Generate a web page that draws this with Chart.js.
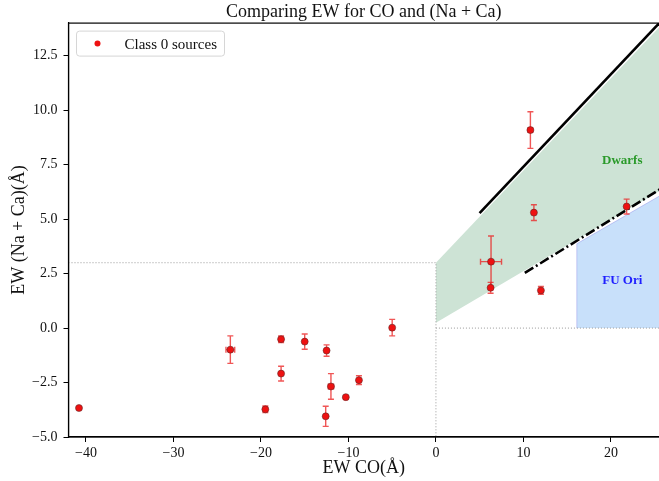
<!DOCTYPE html>
<html lang="en">
<head>
<meta charset="UTF-8">
<title>Comparing EW for CO and (Na + Ca)</title>
<script src="https://cdn.jsdelivr.net/npm/chart.js"></script>
<style>
  body { margin: 0; background: #fff; }
  canvas { display: block; }
</style>
</head>
<body>
<canvas id="ewChart" width="659" height="481"></canvas>
<script>
// Class 0 sources
const ewCO     = [-40.8, -23.5, -19.5, -17.7, -17.7, -15.0, -12.5, -12.0, -12.6, -10.3, -8.8, -5.0, 6.3, 6.25, 10.8, 11.2, 12.0, 21.8];
const ewNaCa   = [-3.67, -0.99, -3.73, -0.51, -2.09, -0.62, -1.03, -2.68, -4.05, -3.17, -2.39, 0.02, 3.05, 1.85, 9.09, 5.30, 1.73, 5.58];
const ewCOErr  = [0.15, 0.50, 0.15, 0.20, 0.15, 0.10, 0.15, 0.30, 0.10, 0.15, 0.15, 0.10, 1.20, 0.10, 0.25, 0.15, 0.15, 0.15];
const ewNaCaErr= [0.06, 0.63, 0.15, 0.15, 0.34, 0.35, 0.26, 0.59, 0.46, 0.06, 0.20, 0.38, 1.18, 0.25, 0.84, 0.36, 0.18, 0.34];

// region boundaries
const dwarfUpper = [{x: 0, y: 3.0}, {x: 25.5, y: 13.8}];
const dwarfLower = [{x: 0, y: 0.24}, {x: 25.5, y: 6.28}];
const fuOriTop   = [{x: 16.1, y: 0}, {x: 16.1, y: 3.87}, {x: 25.5, y: 6.05}];
const solidLine  = [{x: 4.99, y: 5.28}, {x: 26, y: 14.2}];
const dashDotLine= [{x: 10.16, y: 2.53}, {x: 26, y: 6.47}];
const dotBox     = [{x: -42, y: 3}, {x: 0, y: 3}, {x: 0, y: -5}];
const dotZero    = [{x: 0, y: 0}, {x: 25.5, y: 0}];

const regionLabels = [
  {text: 'Dwarfs', x: 21.3, y: 7.69, color: '#2a9a2a'},
  {text: 'FU Ori', x: 21.3, y: 2.17, color: '#1f1fff'}
];

const xTicks = [-40, -30, -20, -10, 0, 10, 20];
const yTicks = [-5, -2.5, 0, 2.5, 5, 7.5, 10, 12.5];

const FONT = "'Liberation Serif', 'DejaVu Serif', serif";
Chart.defaults.font.family = FONT;
Chart.defaults.color = '#111';

const minus = s => String(s).replace('-', '\u2212');

const points = ewCO.map((x, i) => ({x: x, y: ewNaCa[i]}));

const lineDs = (data, color, width, dash) => ({
  type: 'line', data: data, borderColor: color, borderWidth: width,
  borderDash: dash || [], pointRadius: 0, fill: false, tension: 0
});

// error bars, drawn just before the markers
const errorBars = {
  id: 'errorBars',
  beforeDatasetDraw(chart, args) {
    if (args.index !== 0) return;
    const {ctx, scales: {x, y}} = chart;
    ctx.save();
    ctx.strokeStyle = 'rgba(235, 30, 30, 0.75)';
    ctx.lineWidth = 1.4;
    const cap = 3;
    ewCO.forEach((v, i) => {
      const px = x.getPixelForValue(v), py = y.getPixelForValue(ewNaCa[i]);
      const y0 = y.getPixelForValue(ewNaCa[i] - ewNaCaErr[i]);
      const y1 = y.getPixelForValue(ewNaCa[i] + ewNaCaErr[i]);
      const x0 = x.getPixelForValue(v - ewCOErr[i]);
      const x1 = x.getPixelForValue(v + ewCOErr[i]);
      ctx.beginPath();
      ctx.moveTo(px, y0); ctx.lineTo(px, y1);
      ctx.moveTo(px - cap, y0); ctx.lineTo(px + cap, y0);
      ctx.moveTo(px - cap, y1); ctx.lineTo(px + cap, y1);
      ctx.moveTo(x0, py); ctx.lineTo(x1, py);
      ctx.moveTo(x0, py - cap); ctx.lineTo(x0, py + cap);
      ctx.moveTo(x1, py - cap); ctx.lineTo(x1, py + cap);
      ctx.stroke();
    });
    ctx.restore();
  }
};

// frame, region names and the legend box
const extras = {
  id: 'extras',
  afterDraw(chart) {
    const {ctx, chartArea: a, scales: {x, y}} = chart;
    ctx.save();
    ctx.strokeStyle = '#000';
    ctx.lineWidth = 1.2;
    ctx.strokeRect(a.left, a.top, a.right - a.left + 4, a.bottom - a.top);

    ctx.font = 'bold 13px ' + FONT;
    ctx.textAlign = 'center';
    ctx.textBaseline = 'middle';
    regionLabels.forEach(l => {
      ctx.fillStyle = l.color;
      ctx.fillText(l.text, x.getPixelForValue(l.x), y.getPixelForValue(l.y));
    });

    // legend
    const lx = a.left + 8, ly = a.top + 8, lw = 148, lh = 25;
    ctx.beginPath();
    ctx.roundRect(lx, ly, lw, lh, 3);
    ctx.fillStyle = 'rgba(255,255,255,0.85)';
    ctx.fill();
    ctx.strokeStyle = '#d6d6d6';
    ctx.lineWidth = 1;
    ctx.stroke();
    ctx.beginPath();
    ctx.arc(lx + 21, ly + lh / 2, 3, 0, Math.PI * 2);
    ctx.fillStyle = '#ee1111';
    ctx.fill();
    ctx.fillStyle = '#111';
    ctx.font = '15px ' + FONT;
    ctx.textAlign = 'left';
    ctx.fillText(chart.data.datasets[0].label, lx + 48, ly + lh / 2 + 1);
    ctx.restore();
  }
};

new Chart(document.getElementById('ewChart'), {
  type: 'scatter',
  data: {
    datasets: [
      {
        label: 'Class 0 sources',
        data: points,
        backgroundColor: '#ee1111',
        borderColor: 'rgba(90, 40, 40, 0.55)',
        borderWidth: 1,
        pointRadius: 3.5
      },
      lineDs(solidLine, '#000', 2.6),
      lineDs(dashDotLine, '#000', 2.6, [10, 3, 2, 3]),
      lineDs(dotBox, '#999', 1, [1, 2]),
      lineDs(dotZero, '#999', 1, [1, 2]),
      Object.assign(lineDs(dwarfUpper, 'rgba(0,0,0,0)', 0), {fill: '+1', backgroundColor: '#cde3d5'}),
      lineDs(dwarfLower, 'rgba(0,0,0,0)', 0),
      Object.assign(lineDs(fuOriTop, 'rgba(140,140,230,0.45)', 1), {fill: 'origin', backgroundColor: '#c8e0fa'})
    ]
  },
  options: {
    responsive: false,
    animation: false,
    layout: {padding: 0, autoPadding: false},
    plugins: {
      legend: {display: false},
      tooltip: {enabled: false},
      title: {
        display: true,
        fullSize: false,
        text: 'Comparing EW for CO and (Na + Ca)',
        color: '#111',
        font: {size: 18, weight: 'normal', lineHeight: 1.2},
        padding: {top: 1.5, bottom: 0}
      }
    },
    scales: {
      x: {
        type: 'linear',
        min: -42, max: 25.5,
        afterFit: s => { s.height = 44; },
        afterBuildTicks: s => { s.ticks = xTicks.map(v => ({value: v})); },
        grid: {drawOnChartArea: false, drawTicks: true, tickLength: 5, color: '#000'},
        border: {display: true, color: '#000', width: 1.2},
        ticks: {font: {size: 14}, padding: 3, color: '#111', callback: v => minus(v)},
        title: {display: true, text: 'EW CO(Å)', font: {size: 18}, padding: {top: 0, bottom: 1.5}, color: '#111'}
      },
      y: {
        type: 'linear',
        min: -5, max: 14,
        afterFit: s => { s.width = 68.5; },
        afterBuildTicks: s => { s.ticks = yTicks.map(v => ({value: v})); },
        grid: {drawOnChartArea: false, drawTicks: true, tickLength: 5, color: '#000'},
        border: {display: true, color: '#000', width: 1.2},
        ticks: {font: {size: 14}, padding: 6, color: '#111', callback: v => minus(v.toFixed(1))},
        title: {display: true, text: 'EW (Na + Ca)(Å)', font: {size: 18}, padding: {top: 8, bottom: 0}, color: '#111'}
      }
    }
  },
  plugins: [errorBars, extras]
});
</script>
</body>
</html>
